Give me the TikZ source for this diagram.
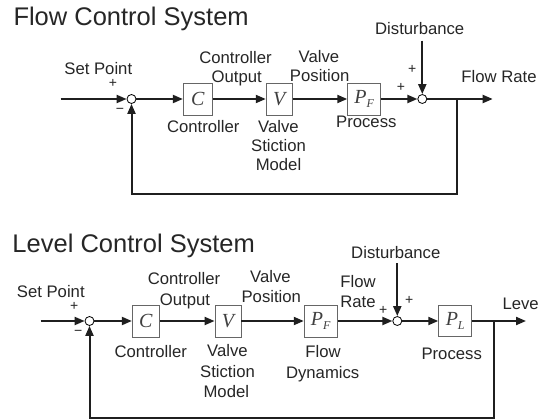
\documentclass[tikz,border=0pt]{standalone}
\usepackage{fontspec}
\setmainfont{Liberation Sans}
\newfontfamily\blkfont{Liberation Serif}
\usetikzlibrary{arrows.meta}

\newcommand{\subsc}[1]{\raisebox{-4pt}{\fontsize{12}{12}\selectfont #1}}

\begin{document}
\begin{tikzpicture}[x=1pt,y=-1pt,
  sig/.style={line width=2pt, draw=black!88, -{Triangle[length=10pt,width=8pt]}},
  blk/.style={draw=black!60, line width=0.9pt, fill=white, minimum height=32pt,
    inner sep=0pt, font=\fontsize{20}{20}\selectfont\blkfont\itshape, text=black!75},
  sum/.style={circle, draw=black, line width=0.8pt, fill=white, minimum size=9pt, inner sep=0pt},
  lbl/.style={font=\fontsize{16.7}{19}\selectfont, inner sep=0pt, anchor=base, text=black!85},
  sgn/.style={font=\fontsize{14}{14}\selectfont, inner sep=0pt, text=black!85},
  ttl/.style={font=\fontsize{25.5}{28}\selectfont, inner sep=0pt, anchor=base west, text=black!85}
]
\useasboundingbox[fill=white] (0,0) rectangle (539,420);

% ---------------- Flow control loop ----------------
\node[ttl] (t1) at (13.3,26) {Flow Control System};

\coordinate (in1) at (60.7,99);
\node[sum] (s1) at (131.5,99) {};
\node[blk, minimum width=29pt] (c1) at (197.8,99) {C};
\node[blk, minimum width=26pt] (v1) at (279.2,99) {V};
\node[blk, minimum width=33pt] (pf1) at (364.2,99) {P\subsc{F}};
\node[sum] (s2) at (422.3,99) {};
\coordinate (br1) at (457.3,99);
\coordinate (out1) at (492.7,99);
\coordinate (d1) at (422.3,40.7);
\coordinate (fa1) at (457.3,194.3);
\coordinate (fb1) at (131.5,194.3);

\draw[sig] (in1) -- (s1);
\draw[sig] (s1) -- (c1);
\draw[sig] (c1) -- (v1);
\draw[sig] (v1) -- (pf1);
\draw[sig] (pf1) -- (s2);
\draw[sig] (s2) -- (out1);
\draw[sig] (d1) -- (s2);
\draw[sig] (br1) -- (fa1) -- (fb1) -- (s1);

\node[lbl] (sp1) at (98.3,74.3) {Set Point};
\node[sgn] (p1) at (113,83) {+};
\node[sgn] (m1) at (120,111) {−};
\node[lbl] (co1a) at (235.5,64) {Controller};
\node[lbl] (co1b) at (236.7,82.7) {Output};
\node[lbl] (cn1) at (203.3,132.7) {Controller};
\node[lbl] (vs1a) at (278.5,132.7) {Valve};
\node[lbl] (vs1b) at (278.5,151.5) {Stiction};
\node[lbl] (vs1c) at (278.5,171) {Model};
\node[lbl] (vp1a) at (319,62.7) {Valve};
\node[lbl] (vp1b) at (319.7,82) {Position};
\node[lbl] (pr1) at (366.3,127.7) {Process};
\node[lbl] (ds1) at (419.7,34.3) {Disturbance};
\node[sgn] (p2) at (412.3,69.3) {+};
\node[sgn] (p3) at (401,87.7) {+};
\node[lbl] (fr1) at (499,82.7) {Flow Rate};

% ---------------- Level control loop ----------------
\node[ttl] (t2) at (12.3,252.3) {Level Control System};

\coordinate (in2) at (40.7,321);
\node[sum] (s3) at (89.5,321) {};
\node[blk, minimum width=27pt] (c2) at (145.8,321) {C};
\node[blk, minimum width=26pt] (v2) at (228,321) {V};
\node[blk, minimum width=33pt] (pf2) at (320.7,321) {P\subsc{F}};
\node[sum] (s4) at (397.3,321) {};
\node[blk, minimum width=33pt, minimum height=31pt] (pl) at (455.2,321) {P\subsc{L}};
\coordinate (br2) at (494.3,321);
\coordinate (out2) at (526,321);
\coordinate (d2) at (397.3,263.3);
\coordinate (fa2) at (494.3,418.3);
\coordinate (fb2) at (89.5,418.3);

\draw[sig] (in2) -- (s3);
\draw[sig] (s3) -- (c2);
\draw[sig] (c2) -- (v2);
\draw[sig] (v2) -- (pf2);
\draw[sig] (pf2) -- (s4);
\draw[sig] (s4) -- (pl);
\draw[sig] (pl) -- (out2);
\draw[sig] (d2) -- (s4);
\draw[sig] (br2) -- (fa2) -- (fb2) -- (s3);

\node[lbl] (sp2) at (50.8,297.7) {Set Point};
\node[sgn] (p4) at (74.3,306.7) {+};
\node[sgn] (m2) at (78.3,333.3) {−};
\node[lbl] (co2a) at (184,284.3) {Controller};
\node[lbl] (co2b) at (185,305.3) {Output};
\node[lbl] (cn2) at (150.8,357) {Controller};
\node[lbl] (vs2a) at (227.5,356) {Valve};
\node[lbl] (vs2b) at (227.5,377.7) {Stiction};
\node[lbl] (vs2c) at (226.3,397.7) {Model};
\node[lbl] (vp2a) at (270.5,282) {Valve};
\node[lbl] (vp2b) at (271.3,302) {Position};
\node[lbl] (fd2a) at (323,357.7) {Flow};
\node[lbl] (fd2b) at (322.7,378.3) {Dynamics};
\node[lbl] (fr2a) at (358,287.7) {Flow};
\node[lbl] (fr2b) at (358,307.7) {Rate};
\node[lbl] (ds2) at (395.8,258.7) {Disturbance};
\node[sgn] (p5) at (409.3,300) {+};
\node[sgn] (p6) at (383.3,310) {+};
\node[lbl] (pr2) at (451.7,359.3) {Process};
\node[lbl, anchor=base west] (lv) at (502.3,309.3) {Level};
\end{tikzpicture}
\end{document}
